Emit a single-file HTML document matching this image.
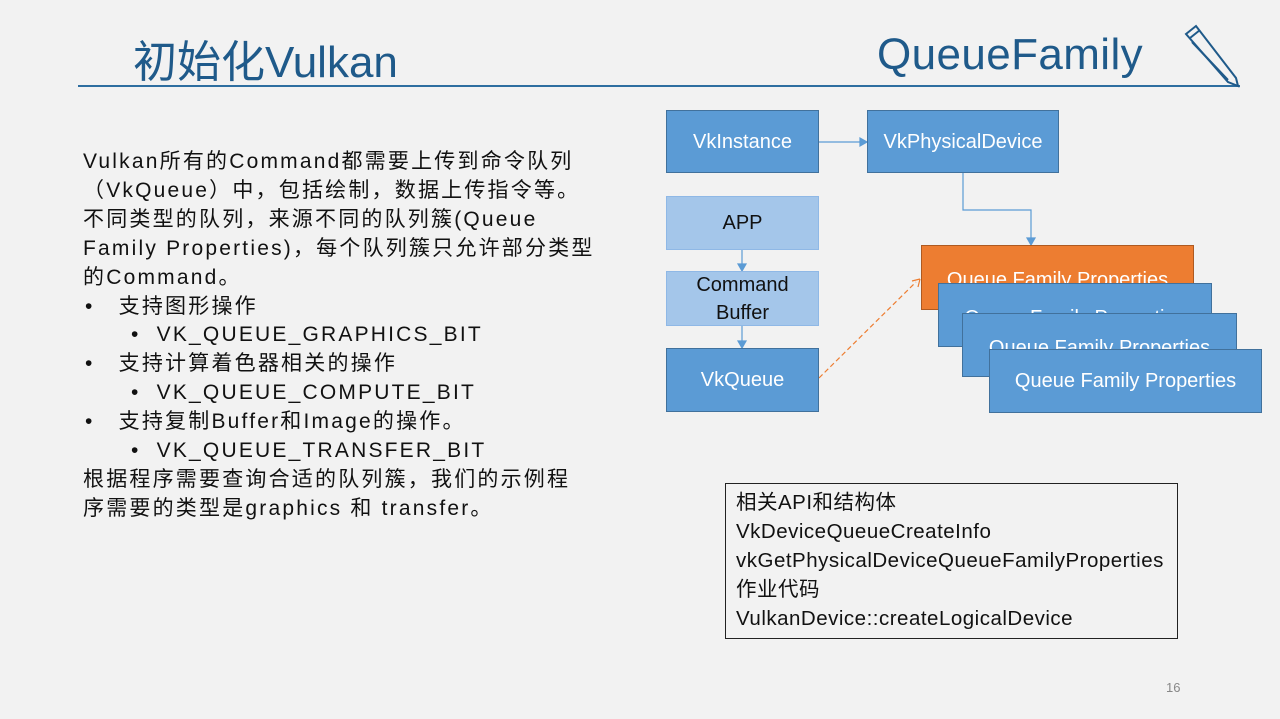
<!DOCTYPE html>
<html><head><meta charset="utf-8"><style>
body{margin:0;width:1280px;height:719px;background:#f2f2f2;position:relative;overflow:hidden;font-family:"Liberation Sans","Noto Sans CJK SC",sans-serif}
.a{position:absolute}
.t{color:#1f5a8a;font-size:44px}
.b{position:absolute;box-sizing:border-box;background:#5b9bd5;border:1.5px solid #41719c;color:#fff;font-size:20px;display:flex;align-items:center;justify-content:center;text-align:center;overflow:hidden;line-height:28px}
.l{background:#a4c6ea;border-color:#8fb8e6;color:#111}
.txt{left:83px;top:148px;font-size:21px;line-height:28.9px;color:#111;letter-spacing:2.2px;white-space:nowrap}
</style></head><body>
<div class="a t" style="left:133px;top:26px">初始化Vulkan</div>
<div class="a t" style="left:877px;top:30px;letter-spacing:0.4px">QueueFamily</div>
<div class="a" style="left:78px;top:85px;width:1162px;height:2px;background:#2e6ea0"></div>
<svg class="a" style="left:1178px;top:22px" width="66" height="66"><g fill="none" stroke="#1f5a8a" stroke-width="2"><path d="M8 12 L18 4 L58 56 L60 64 L50 60 Z"/><path d="M12 16 L22 8 M14 20 L50 58"/></g></svg>
<div class="a txt">Vulkan所有的Command都需要上传到命令队列<br>（VkQueue）中，包括绘制，数据上传指令等。<br>不同类型的队列，来源不同的队列簇(Queue<br>Family Properties)，每个队列簇只允许部分类型<br>的Command。<br>
<span style="padding-left:2px">•&nbsp;&nbsp;&nbsp;支持图形操作</span><br>
<span style="padding-left:48px">•&nbsp;&nbsp;VK_QUEUE_GRAPHICS_BIT</span><br>
<span style="padding-left:2px">•&nbsp;&nbsp;&nbsp;支持计算着色器相关的操作</span><br>
<span style="padding-left:48px">•&nbsp;&nbsp;VK_QUEUE_COMPUTE_BIT</span><br>
<span style="padding-left:2px">•&nbsp;&nbsp;&nbsp;支持复制Buffer和Image的操作。</span><br>
<span style="padding-left:48px">•&nbsp;&nbsp;VK_QUEUE_TRANSFER_BIT</span><br>
根据程序需要查询合适的队列簇，我们的示例程<br>序需要的类型是graphics 和 transfer。</div>
<svg class="a" style="left:0;top:0" width="1280" height="719">
<g stroke="#5b9bd5" stroke-width="1.2" fill="#5b9bd5">
<line x1="819" y1="142" x2="862" y2="142"/><path d="M867 142 l-7 -4 v8z"/>
<polyline points="963,173 963,210 1031,210 1031,240" fill="none"/><path d="M1031 245 l-4 -7 h8z"/>
<line x1="742" y1="250" x2="742" y2="266"/><path d="M742 271 l-4 -7 h8z"/>
<line x1="742" y1="326" x2="742" y2="343"/><path d="M742 348 l-4 -7 h8z"/>
</g>
<line x1="819" y1="378" x2="916" y2="282" stroke="#ed7d31" stroke-width="1.2" stroke-dasharray="5,3"/>
<path d="M920 279 l-8 2 M920 279 l-2 8" stroke="#ed7d31" stroke-width="1.2" fill="none"/>
</svg>
<div class="b" style="left:666px;top:110px;width:153px;height:63px">VkInstance</div>
<div class="b" style="left:867px;top:110px;width:192px;height:63px">VkPhysicalDevice</div>
<div class="b l" style="left:666px;top:196px;width:153px;height:54px">APP</div>
<div class="b l" style="left:666px;top:271px;width:153px;height:55px">Command<br>Buffer</div>
<div class="b" style="left:666px;top:348px;width:153px;height:64px">VkQueue</div>
<div class="b" style="left:921px;top:245px;width:273px;height:65px;background:#ed7d31;border-color:#ae5a21;align-items:flex-start;padding-top:20px">Queue Family Properties</div>
<div class="b" style="left:938px;top:283px;width:274px;height:64px;align-items:flex-start;padding-top:20px">Queue Family Properties</div>
<div class="b" style="left:962px;top:313px;width:275px;height:64px;align-items:flex-start;padding-top:20px">Queue Family Properties</div>
<div class="b" style="left:989px;top:349px;width:273px;height:64px">Queue Family Properties</div>
<div class="a" style="left:725px;top:483px;width:453px;height:156px;box-sizing:border-box;border:1.5px solid #222;padding:4px 10px;font-size:20.5px;line-height:29px;color:#111;letter-spacing:0.5px;white-space:nowrap">相关API和结构体<br>VkDeviceQueueCreateInfo<br>vkGetPhysicalDeviceQueueFamilyProperties<br>作业代码<br>VulkanDevice::createLogicalDevice</div>
<div class="a" style="left:1166px;top:680px;font-size:13px;color:#888">16</div>
</body></html>
